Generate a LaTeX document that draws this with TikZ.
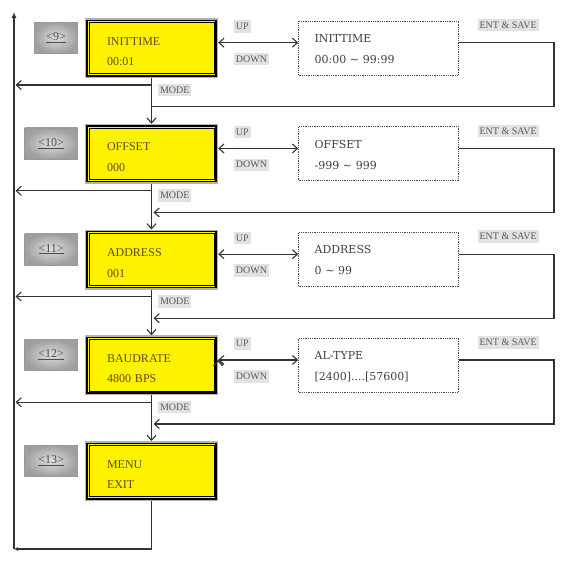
\documentclass[tikz,border=0pt]{standalone}
\usepackage{fontspec}
\setmainfont{Liberation Serif}
\newfontfamily\rangefont{DejaVu Serif}
\usetikzlibrary{positioning,arrows.meta}

\definecolor{lcdink}{RGB}{90,80,0}
\definecolor{tagfill}{RGB}{226,226,226}

\begin{document}
\begin{tikzpicture}[x=1pt, y=-1pt, node distance=45.75pt,
    >={Straight Barb[length=5pt,width=9pt]},
    wire/.style={draw=black!80, line width=1.1pt},
    lcd/.style={fill=yellow, draw=black, line width=0.9pt,
      preaction={draw=gray!60, line width=8.4pt},
      preaction={draw=black, line width=5.4pt},
      preaction={draw=yellow, line width=2.8pt},
      outer sep=4.2pt, minimum width=125pt, minimum height=51.6pt,
      inner xsep=18pt, text width=89pt, align=left, text height=8pt, text depth=14pt,
      text=lcdink, font=\fontsize{12}{20.7}\selectfont},
    setbox/.style={draw=black!70, densely dotted, line width=0.8pt,
      minimum width=160pt, minimum height=54pt, inner xsep=16pt, text width=128pt,
      align=left, text height=8pt, text depth=19.4pt, text=black!75,
      font=\rangefont\fontsize{11}{21}\selectfont},
    numbox/.style={draw=gray!80, shading=radial, inner color=gray!25, outer color=gray!75,
      minimum width=53pt, minimum height=31pt, text=black!70, font=\fontsize{12}{13}\selectfont},
    tag/.style={fill=tagfill, text=black!65, inner xsep=2pt, inner ysep=1.5pt,
      minimum height=12.5pt, font=\fontsize{10}{11}\selectfont}]
  \path[use as bounding box, fill=white] (0,0) rectangle (567,563);

  \node[lcd] (lcd9) at (151.5,48) {INITTIME\\00:01};
  \node[lcd] (lcd10) [below=of lcd9] {OFFSET\\000};
  \node[lcd] (lcd11) [below=of lcd10] {ADDRESS\\001};
  \node[lcd] (lcd12) [below=of lcd11] {BAUDRATE\\4800 BPS};
  \node[lcd] (lcd13) [below=of lcd12] {MENU\\EXIT};

  \node[numbox, minimum width=43pt] (num9) [below left=4pt and 7pt of lcd9.north west] {\underline{<9>}};
  \node[numbox] (num10) [below left=4pt and 7pt of lcd10.north west] {\underline{<10>}};
  \node[numbox] (num11) [below left=4pt and 7pt of lcd11.north west] {\underline{<11>}};
  \node[numbox] (num12) [below left=4pt and 7pt of lcd12.north west] {\underline{<12>}};
  \node[numbox] (num13) [below left=4pt and 7pt of lcd13.north west] {\underline{<13>}};

  \node[setbox] (set9) [right=80pt of lcd9] {INITTIME\\00:00 \textasciitilde{} 99:99};
  \node[setbox] (set10) [right=80pt of lcd10] {OFFSET\\-999 \textasciitilde{} 999};
  \node[setbox] (set11) [right=80pt of lcd11] {ADDRESS\\0 \textasciitilde{} 99};
  \node[setbox] (set12) [right=80pt of lcd12] {AL-TYPE\\{[2400]....[57600]}};

  \coordinate (spine) at (14,549);
  \coordinate (top) at (14,12);
  \coordinate (mode9) at ([yshift=-7pt]lcd9.south);
  \coordinate (mode10) at ([yshift=-7pt]lcd10.south);
  \coordinate (mode11) at ([yshift=-7pt]lcd11.south);
  \coordinate (mode12) at ([yshift=-7pt]lcd12.south);
  \coordinate (ret9) at ([yshift=-28.7pt]lcd9.south);
  \coordinate (ret10) at ([yshift=-28.7pt]lcd10.south);
  \coordinate (ret11) at ([yshift=-28.7pt]lcd11.south);
  \coordinate (ret12) at ([yshift=-28.7pt]lcd12.south);

  \path[wire,<->]
    ([yshift=5.3pt]lcd9.east) edge node[tag,pos=.19,anchor=south west,yshift=9.5pt] {UP}
      node[tag,pos=.19,anchor=north west,yshift=-9.5pt] {DOWN} ([yshift=5.3pt]set9.west)
    ([yshift=5.3pt]lcd10.east) edge node[tag,pos=.19,anchor=south west,yshift=9.5pt] {UP}
      node[tag,pos=.19,anchor=north west,yshift=-9.5pt] {DOWN} ([yshift=5.3pt]set10.west)
    ([yshift=5.3pt]lcd11.east) edge node[tag,pos=.19,anchor=south west,yshift=9.5pt] {UP}
      node[tag,pos=.19,anchor=north west,yshift=-9.5pt] {DOWN} ([yshift=5.3pt]set11.west)
    ([yshift=5.3pt]lcd12.east) edge node[tag,pos=.19,anchor=south west,yshift=9.5pt] {UP}
      node[tag,pos=.19,anchor=north west,yshift=-9.5pt] {DOWN} ([yshift=5.3pt]set12.west);

  \path[wire,->]
    (lcd9) edge node[tag,pos=.26,right=6pt] {MODE} (lcd10)
    (lcd10) edge node[tag,pos=.26,right=6pt] {MODE} (lcd11)
    (lcd11) edge node[tag,pos=.26,right=6pt] {MODE} (lcd12)
    (lcd12) edge node[tag,pos=.26,right=6pt] {MODE} (lcd13);

  \draw[wire] ([yshift=5.3pt]set9.east) -- node[tag,pos=.19,anchor=south west,yshift=10.7pt] {ENT \& SAVE} ++(95,0) |- (ret9);
  \draw[wire,->,shorten >=2pt] ([yshift=5.3pt]set10.east) -- node[tag,pos=.19,anchor=south west,yshift=10.7pt] {ENT \& SAVE} ++(95,0) |- (ret10);
  \draw[wire,->,shorten >=2pt] ([yshift=5.3pt]set11.east) -- node[tag,pos=.19,anchor=south west,yshift=10.7pt] {ENT \& SAVE} ++(95,0) |- (ret11);
  \draw[wire,->,shorten >=2pt] ([yshift=5.3pt]set12.east) -- node[tag,pos=.19,anchor=south west,yshift=10.7pt] {ENT \& SAVE} ++(95,0) |- (ret12);

  \draw[wire,->,shorten >=1.5pt] (mode9) -- (mode9 -| spine);
  \draw[wire,->,shorten >=1.5pt] (mode10) -- (mode10 -| spine);
  \draw[wire,->,shorten >=1.5pt] (mode11) -- (mode11 -| spine);
  \draw[wire,->,shorten >=1.5pt] (mode12) -- (mode12 -| spine);

  \draw[wire,-{Latex[length=4pt,width=4pt]}] (lcd13) |- (spine);
  \draw[wire,-{Latex[length=6pt,width=5pt]}] (spine) -- (top);
\end{tikzpicture}
\end{document}
